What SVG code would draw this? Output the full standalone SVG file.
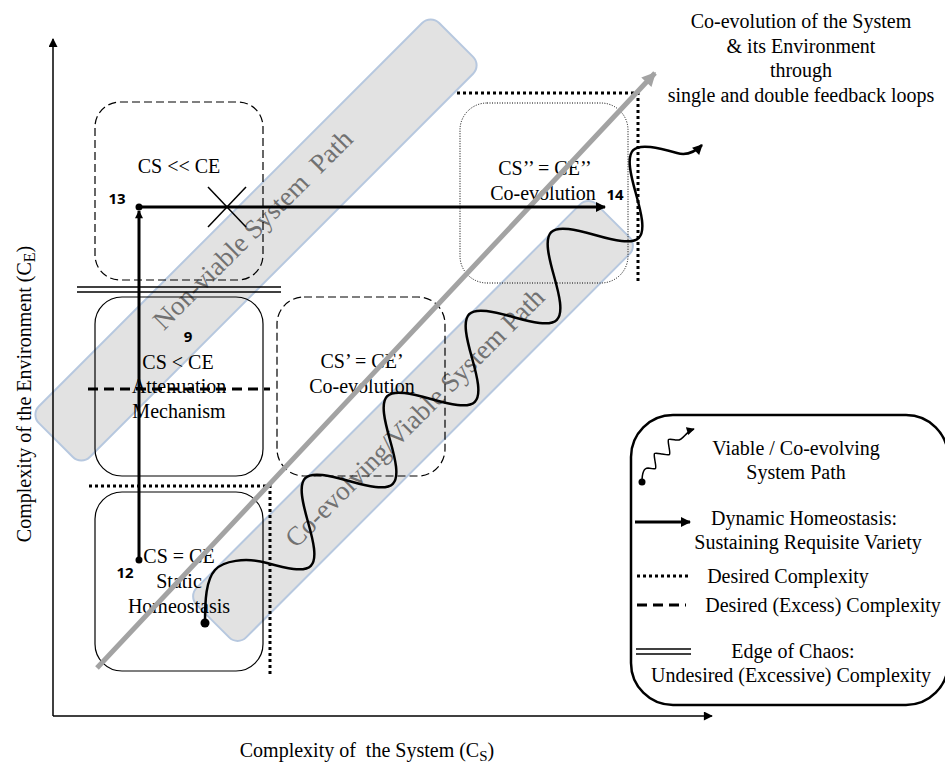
<svg xmlns="http://www.w3.org/2000/svg" width="945" height="767" viewBox="0 0 945 767">
  <defs>
    <style>
      .t { font-family: "Liberation Serif", "Times New Roman", serif; font-size: 20px; fill: #000; }
      .num { font-family: "Open Sans", "Liberation Sans", sans-serif; font-size: 15px; font-weight: 700; fill: #000; }
      .band { fill: #e2e2e2; stroke: #b7c8df; stroke-width: 2; }
      .bandtxt { font-family: "Liberation Serif", "Times New Roman", serif; font-size: 27px; fill: #717171; }
      .box { fill: none; stroke: #000; stroke-width: 1.2; }
      .dash { stroke-dasharray: 8 4; }
      .fine { stroke-dasharray: 1 1.5; stroke-width: 1; }
      .dotted { fill: none; stroke: #000; stroke-width: 3; stroke-dasharray: 3 3; }
      .dashed { fill: none; stroke: #000; stroke-width: 3; stroke-dasharray: 10 6; }
      .double { fill: none; stroke: #000; stroke-width: 1.5; }
      .axis { fill: none; stroke: #000; stroke-width: 1.5; }
      .thick { fill: none; stroke: #000; stroke-width: 3; }
      .wave { fill: none; stroke: #000; stroke-width: 2.5; }
    </style>
    <marker id="ahead" viewBox="0 0 10 10" refX="9" refY="5" markerWidth="12" markerHeight="10" markerUnits="userSpaceOnUse" orient="auto">
      <path d="M0,0 L10,5 L0,10 z" fill="#000"/>
    </marker>
    <marker id="axhead" viewBox="0 0 10 10" refX="9" refY="5" markerWidth="10" markerHeight="9" markerUnits="userSpaceOnUse" orient="auto">
      <path d="M0,0 L10,5 L0,10 z" fill="#000"/>
    </marker>
    <marker id="smallhead" viewBox="0 0 10 10" refX="9" refY="5" markerWidth="9" markerHeight="8" markerUnits="userSpaceOnUse" orient="auto">
      <path d="M0,0 L10,5 L0,10 z" fill="#000"/>
    </marker>
    <marker id="grayhead" viewBox="0 0 10 10" refX="9" refY="5" markerWidth="16" markerHeight="14" markerUnits="userSpaceOnUse" orient="auto">
      <path d="M0,0 L10,5 L0,10 z" fill="#a3a3a3"/>
    </marker>
  </defs>

  <!-- diagonal path bands -->
  <g id="band-nonviable">
    <rect class="band" x="-283" y="-36" width="566" height="72" rx="12" transform="translate(256,240) rotate(-45)"/>
    <text class="bandtxt" xml:space="preserve" text-anchor="middle" transform="translate(259,236) rotate(-45)">Non-viable System  Path</text>
  </g>
  <g id="band-viable">
    <rect class="band" x="-283" y="-35" width="566" height="70" rx="12" transform="translate(413,421) rotate(-45)"/>
    <text class="bandtxt" text-anchor="middle" transform="translate(421,424) rotate(-45)">Co-evolving/Viable System Path</text>
  </g>

  <!-- axes -->
  <g id="axes">
    <line class="axis" x1="53" y1="716" x2="53" y2="39" marker-end="url(#axhead)"/>
    <line class="axis" x1="53" y1="716" x2="712" y2="716" marker-end="url(#axhead)"/>
    <text class="t" font-size="24" text-anchor="middle" transform="translate(31,394) rotate(-90)">Complexity of the Environment (C<tspan font-size="16" dy="4">E</tspan><tspan dy="-4">)</tspan></text>
    <text class="t" font-size="22" text-anchor="middle" x="367" y="757" xml:space="preserve">Complexity of  the System (C<tspan font-size="15" dy="4">S</tspan><tspan dy="-4">)</tspan></text>
  </g>

  <!-- state boxes -->
  <g id="box-cs-much-less">
    <rect class="box dash" x="95" y="102" width="168" height="178" rx="25"/>
    <text class="t" x="179" y="173" text-anchor="middle">CS &lt;&lt; CE</text>
  </g>
  <g id="box-attenuation">
    <rect class="box" x="95" y="297" width="168" height="179" rx="27"/>
    <text class="num" x="188" y="342" text-anchor="middle">9</text>
    <text class="t" x="178" y="369" text-anchor="middle">CS &lt; CE</text>
    <text class="t" x="179" y="393" text-anchor="middle">Attenuation</text>
    <text class="t" x="179" y="418" text-anchor="middle">Mechanism</text>
  </g>
  <g id="box-static">
    <rect class="box" x="95" y="492" width="168" height="179" rx="27"/>
    <text class="t" x="179" y="563" text-anchor="middle">CS = CE</text>
    <text class="t" x="179" y="588" text-anchor="middle">Static</text>
    <text class="t" x="179" y="613" text-anchor="middle">Homeostasis</text>
  </g>
  <g id="box-coevolution-1">
    <rect class="box dash" x="277" y="297" width="168" height="179" rx="27"/>
    <text class="t" x="362" y="368" text-anchor="middle">CS’ = CE’</text>
    <text class="t" x="362" y="393" text-anchor="middle">Co-evolution</text>
  </g>
  <g id="box-coevolution-2">
    <rect class="box fine" x="460" y="103" width="168" height="180" rx="27"/>
    <text class="t" x="545" y="175" text-anchor="middle">CS’’ = CE’’</text>
    <text class="t" x="543" y="200" text-anchor="middle">Co-evolution</text>
  </g>

  <!-- complexity boundaries -->
  <g id="boundaries">
    <line class="double" x1="77" y1="287" x2="281" y2="287"/>
    <line class="double" x1="77" y1="292" x2="281" y2="292"/>
    <line class="dashed" x1="88" y1="389" x2="270" y2="389"/>
    <polyline class="dotted" points="89,486 270,486 270,676"/>
    <polyline class="dotted" points="457,93 638,93 638,284"/>
  </g>

  <!-- connectors -->
  <g id="connectors">
    <line x1="97" y1="668" x2="655" y2="73" stroke="#a3a3a3" stroke-width="5" marker-end="url(#grayhead)"/>
    <line class="thick" x1="139" y1="560" x2="139" y2="211" marker-end="url(#smallhead)"/>
    <circle cx="139" cy="560" r="3.5" fill="#000"/>
    <line class="thick" x1="139" y1="207" x2="605" y2="207" marker-end="url(#ahead)"/>
    <circle cx="139" cy="207" r="3.5" fill="#000"/>
    <line x1="208" y1="187" x2="246" y2="227" stroke="#000" stroke-width="1.5"/>
    <line x1="246" y1="187" x2="208" y2="227" stroke="#000" stroke-width="1.5"/>
    <!-- co-evolving path: sine wave running along the diagonal, one period per step -->
    <path class="wave" marker-end="url(#ahead)" d="M205,623 C205,600 206,580 215,570 C223,561 245,557 267,563
      c19.05,5.38 37.02,9.66 43.85,2.83 c6.83,-6.83 2.53,-24.78 -2.85,-43.83 c-5.38,-19.05 -9.64,-37.02 -2.81,-43.85 c6.83,-6.83 24.76,-2.53 43.81,2.85
      c19.05,5.38 37.02,9.66 43.85,2.83 c6.83,-6.83 2.53,-24.78 -2.85,-43.83 c-5.38,-19.05 -9.64,-37.02 -2.81,-43.85 c6.83,-6.83 24.76,-2.53 43.81,2.85
      c19.05,5.38 37.02,9.66 43.85,2.83 c6.83,-6.83 2.53,-24.78 -2.85,-43.83 c-5.38,-19.05 -9.64,-37.02 -2.81,-43.85 c6.83,-6.83 24.76,-2.53 43.81,2.85
      c19.05,5.38 37.02,9.66 43.85,2.83 c6.83,-6.83 2.53,-24.78 -2.85,-43.83 c-5.38,-19.05 -9.64,-37.02 -2.81,-43.85 c6.83,-6.83 24.76,-2.53 43.81,2.85
      c19.05,5.38 37.02,9.66 43.85,2.83 c6.83,-6.83 2.53,-24.78 -2.85,-43.83 c-5.38,-19.05 -9.64,-37.02 -2.81,-43.85 c6.83,-6.83 24.76,-2.53 43.81,2.85
      c10,2.8 18,-1 25,-8"/>
    <circle cx="205" cy="623" r="4.5" fill="#000"/>
  </g>

  <!-- point labels -->
  <g id="labels">
    <text class="num" x="117" y="204" text-anchor="middle">13</text>
    <text class="num" x="125" y="578" text-anchor="middle">12</text>
    <text class="num" x="615" y="200" text-anchor="middle">14</text>
  </g>

  <!-- caption -->
  <g id="caption">
    <text class="t" x="801" y="28" text-anchor="middle">Co-evolution of the System</text>
    <text class="t" x="801" y="53" text-anchor="middle">&amp; its Environment</text>
    <text class="t" x="801" y="77" text-anchor="middle">through</text>
    <text class="t" x="801" y="102" text-anchor="middle">single and double feedback loops</text>
  </g>

  <!-- legend -->
  <g id="legend">
    <rect x="631" y="415" width="317" height="290" rx="42" fill="none" stroke="#000" stroke-width="2.5"/>
    <path fill="none" stroke="#000" stroke-width="1.5" marker-end="url(#smallhead)" d="M642,482 C642,472 644,468 648,468
      C657,469.5 656.5,470 655,461 C653.5,452 653,452.5 662,454
      C671,455.5 670.5,456 669,447 C667.5,438 667,438.5 676,440
      C684,441 684,432 694,429"/>
    <circle cx="642" cy="482" r="3.5" fill="#000"/>
    <text class="t" x="796" y="455" text-anchor="middle">Viable / Co-evolving</text>
    <text class="t" x="796" y="479" text-anchor="middle">System Path</text>
    <line class="thick" x1="635" y1="522" x2="690" y2="522" stroke-width="3.5" marker-end="url(#ahead)"/>
    <text class="t" x="804" y="525" text-anchor="middle">Dynamic Homeostasis:</text>
    <text class="t" x="808" y="549" text-anchor="middle">Sustaining Requisite Variety</text>
    <line class="dotted" x1="637" y1="576" x2="688" y2="576" stroke-width="2" stroke-dasharray="2 2.5"/>
    <text class="t" x="788" y="583" text-anchor="middle">Desired Complexity</text>
    <line class="dashed" x1="637" y1="605" x2="686" y2="605" stroke-dasharray="9 5"/>
    <text class="t" x="823" y="612" text-anchor="middle">Desired (Excess) Complexity</text>
    <line class="double" x1="636" y1="649" x2="691" y2="649"/>
    <line class="double" x1="636" y1="654" x2="691" y2="654"/>
    <text class="t" x="793" y="658" text-anchor="middle">Edge of Chaos:</text>
    <text class="t" x="791" y="682" text-anchor="middle">Undesired (Excessive) Complexity</text>
  </g>
</svg>
